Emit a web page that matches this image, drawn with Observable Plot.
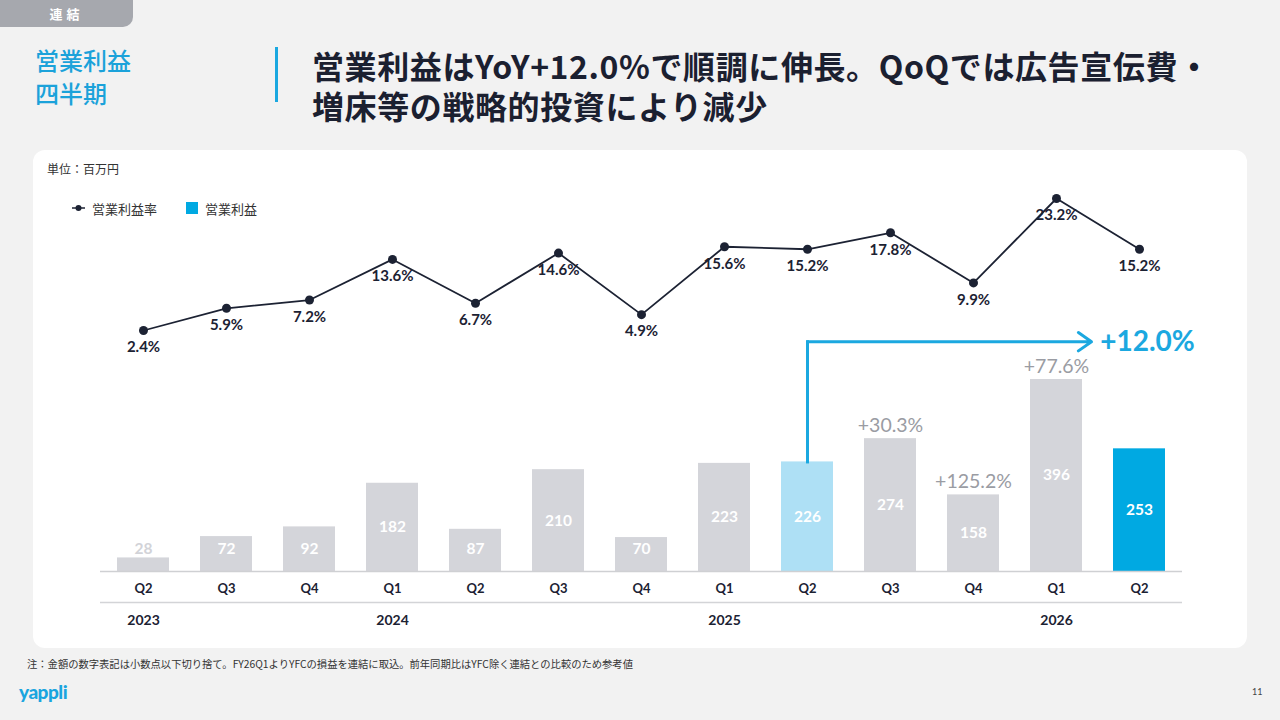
<!DOCTYPE html>
<html><head><meta charset="utf-8">
<script src="https://cdn.jsdelivr.net/npm/d3@7"></script>
<script src="https://cdn.jsdelivr.net/npm/@observablehq/plot@0.6"></script>
<style>
html,body{margin:0;padding:0;}
body{width:1280px;height:720px;background:#f2f2f2;position:relative;overflow:hidden;font-family:"Noto Sans CJK JP","Noto Sans",sans-serif;}
.abs{position:absolute;}
#tab{left:0;top:0;width:133px;height:27px;background:#a6a8ae;border-bottom-right-radius:10px;color:#fff;font-size:13px;font-weight:700;letter-spacing:4px;text-align:center;line-height:27px;}
#sect{left:35px;top:43px;color:#1ba2da;font-size:24px;font-weight:500;line-height:33px;}
#vbar{left:275px;top:47px;width:3px;height:55px;background:#1ba8e0;}
#title{left:312px;top:45px;color:#1b2030;font-size:32px;font-weight:700;line-height:40px;letter-spacing:0.6px;white-space:nowrap;}
#card{left:33px;top:150px;width:1214px;height:498px;background:#fff;border-radius:12px;}
#unit{left:47px;top:160px;font-size:12px;color:#333;}
#leg{left:72px;top:199px;font-size:13px;color:#333;display:flex;align-items:center;height:18px;}
#note{left:27px;top:656px;font-size:10.3px;color:#333;white-space:nowrap;}
#logo{left:19px;top:680px;font-family:Lato,sans-serif;font-weight:900;font-size:19px;color:#1aa5df;letter-spacing:-0.5px;}
#page{left:1252px;top:686px;font-size:9px;color:#444;font-family:Lato,sans-serif;}
.ov{position:absolute;left:0;top:0;}
</style></head>
<body>
<div id="tab" class="abs">連結</div>
<div id="sect" class="abs">営業利益<br>四半期</div>
<div id="vbar" class="abs"></div>
<div id="title" class="abs">営業利益はYoY+12.0%で順調に伸長。QoQでは広告宣伝費・<br>増床等の戦略的投資により減少</div>
<div id="card" class="abs"></div>
<div id="unit" class="abs">単位：百万円</div>
<div id="leg" class="abs">
  <svg width="14" height="10" style="margin-right:6px"><line x1="0" y1="5" x2="13" y2="5" stroke="#1c2233" stroke-width="1.5"/><circle cx="6.5" cy="5" r="3" fill="#1c2233"/></svg>
  <span>営業利益率</span>
  <span style="display:inline-block;width:12px;height:12px;background:#00a9e2;margin-left:29px;margin-right:7px"></span>
  <span>営業利益</span>
</div>
<div id="note" class="abs">注：金額の数字表記は小数点以下切り捨て。FY26Q1よりYFCの損益を連結に取込。前年同期比はYFC除く連結との比較のため参考値</div>
<div id="logo" class="abs">yappli</div>
<div id="page" class="abs">11</div>
<div id="bars" class="ov"></div>
<div id="line" class="ov"></div>
<script>
// ---- data ----
const quarters = ["Q2","Q3","Q4","Q1","Q2","Q3","Q4","Q1","Q2","Q3","Q4","Q1","Q2"];
const years    = ["2023","2023","2023","2024","2024","2024","2024","2025","2025","2025","2025","2026","2026"];
const profit   = [28,72,92,182,87,210,70,223,226,274,158,396,253];          // 営業利益 (百万円)
const marginPct= [2.4,5.9,7.2,13.6,6.7,14.6,4.9,15.6,15.2,17.8,9.9,23.2,15.2]; // 営業利益率 (%)
const yoy      = [null,null,null,null,null,null,null,null,null,"+30.3%","+125.2%","+77.6%",null];
const barKind  = ["past","past","past","past","past","past","past","past","prev","past","past","past","current"];
const yoyHeadline = "+12.0%";

const ids = quarters.map((q,i)=>years[i]+"-"+q);
const rows = ids.map((id,i)=>({id, q:quarters[i], year:years[i], v:profit[i], m:marginPct[i], yoy:yoy[i], kind:barKind[i],
  firstOfYear: i===0 || years[i]!==years[i-1]}));
const prevIdx = barKind.indexOf("prev"), curIdx = barKind.indexOf("current");
const arrowLevel = 474;

const W=1280,H=720;
const xScale = {type:"band", domain: ids, paddingInner:0.375, paddingOuter:0.1875};
const common = {width:W,height:H,marginLeft:100,marginRight:98,marginTop:0,marginBottom:0,
  style:{background:"transparent",overflow:"visible",fontFamily:"Lato, 'Noto Sans', sans-serif"}};
const num = "Lato, 'Noto Sans', sans-serif";

const bars = Plot.plot({...common,
  x: {...xScale, axis:null},
  y: {domain:[0,396], range:[571,379], axis:null},
  color: {domain:["past","prev","current"], range:["#d4d5da","#aee0f5","#00a9e2"]},
  marks: [
    Plot.barY(rows,{x:"id", y:"v", fill:"kind"}),
    Plot.ruleY([0],{stroke:"#cfd0d3", strokeWidth:1.5}),
    Plot.ruleY([0],{stroke:"#d3d4d7", strokeWidth:1.5, dy:31}),
    Plot.text(rows,{x:"id", y:d=>Math.max(d.v/2,46), text:d=>String(d.v),
      fill:d=>d.v<40?"#d2d3d8":"#ffffff", fontSize:15.5, fontWeight:700, fontFamily:num}),
    Plot.text(rows.filter(d=>d.yoy),{x:"id", y:"v", text:"yoy", dy:-13, fill:"#9a9ca3", fontSize:19.5, fontWeight:400, fontFamily:num}),
    Plot.text(rows,{x:"id", y:0, text:"q", dy:17, fill:"#1c2233", fontSize:13, fontWeight:700, fontFamily:num}),
    Plot.text(rows.filter(d=>d.firstOfYear),{x:"id", y:0, text:"year", dy:49, fill:"#1c2233", fontSize:14, fontWeight:700, fontFamily:num}),
    Plot.link([rows[prevIdx]],{x1:"id", x2:"id", y1:"v", y2:()=>arrowLevel, stroke:"#1ba8e0", strokeWidth:3, strokeLinecap:"square"}),
    Plot.arrow([{a:rows[prevIdx].id, b:rows[curIdx].id}],{x1:"a", x2:"b", y1:()=>arrowLevel, y2:()=>arrowLevel,
      stroke:"#1ba8e0", strokeWidth:3, insetEnd:48, headLength:8, headAngle:70}),
    Plot.text([{id:rows[curIdx].id, t:yoyHeadline}],{x:"id", y:()=>arrowLevel, text:"t", dx:8, fill:"#1ba8e0", fontSize:28, fontWeight:700, fontFamily:num})
  ]
});
document.getElementById("bars").appendChild(bars);

const line = Plot.plot({...common,
  x: {...xScale, axis:null},
  y: {domain:[2.4,23.2], range:[330,198], axis:null},
  marks: [
    Plot.line(rows,{x:"id", y:"m", stroke:"#1c2233", strokeWidth:1.8}),
    Plot.dot(rows,{x:"id", y:"m", r:4.5, fill:"#1c2233"}),
    Plot.text(rows,{x:"id", y:"m", text:d=>d.m.toFixed(1)+"%", dy:17, fill:"#1c2233", fontSize:15, fontWeight:700, fontFamily:num})
  ]
});
document.getElementById("line").appendChild(line);
</script>
</body></html>
